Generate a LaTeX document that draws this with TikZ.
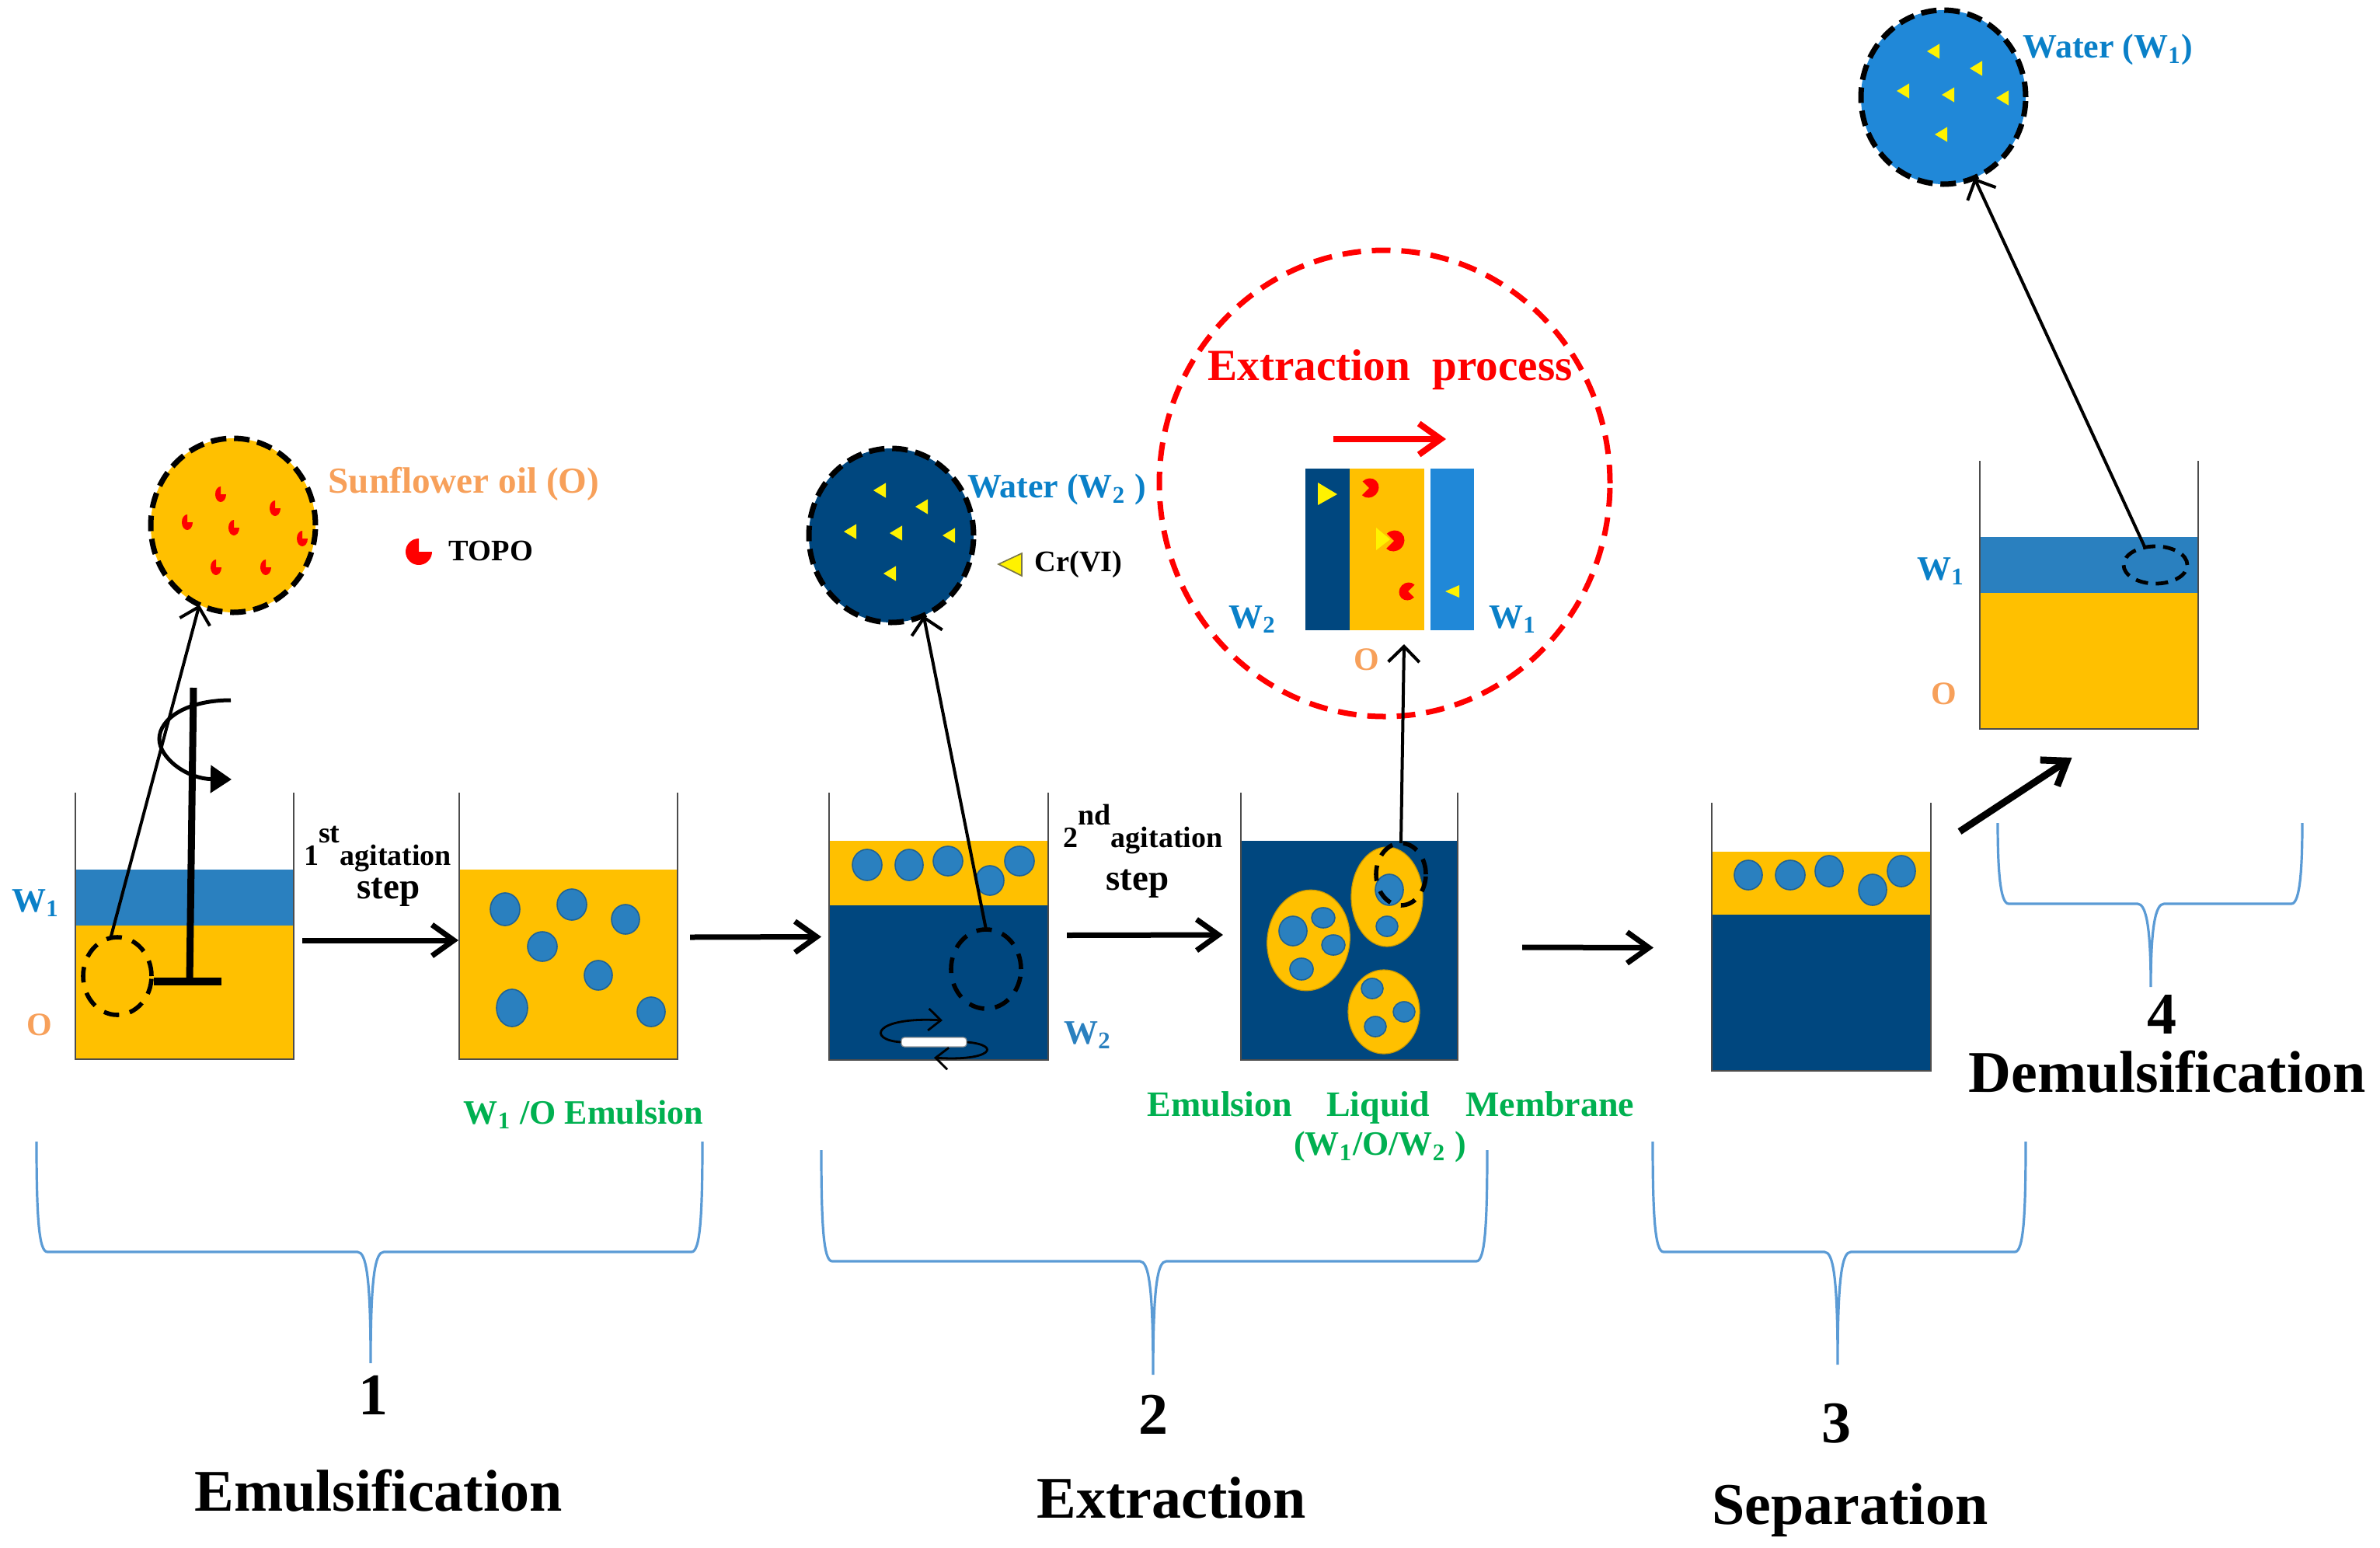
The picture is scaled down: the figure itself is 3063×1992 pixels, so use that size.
\documentclass[tikz,border=0pt]{standalone}
\usepackage{fontspec}
\setmainfont{Liberation Serif}
\usetikzlibrary{arrows.meta,shapes.geometric}

\definecolor{oilcol}{HTML}{FFC000}
\definecolor{wonecol}{HTML}{2A80BF}
\definecolor{wonebig}{HTML}{2088D8}
\definecolor{wtwocol}{HTML}{00477F}
\definecolor{dropedge}{HTML}{1F6296}
\definecolor{bracecol}{HTML}{5B9BD5}
\definecolor{wtext}{HTML}{0A80C8}
\definecolor{otext}{HTML}{F7A05A}
\definecolor{gtext}{HTML}{00B050}

\tikzset{
  every picture/.style={line width=0.75pt},
  layer/.style 2 args={rectangle,anchor=north west,inner sep=0pt,outer sep=0pt,minimum width=#1*0.25pt,minimum height=#2*0.25pt},
  wall/.style={draw=black!70,line width=0.6pt},
  drop/.style 2 args={ellipse,inner sep=0pt,outer sep=0pt,minimum width=#1*0.5pt,minimum height=#2*0.5pt,fill=wonecol,draw=dropedge,line width=0.4pt},
  blob/.style 2 args={ellipse,inner sep=0pt,outer sep=0pt,minimum width=#1*0.5pt,minimum height=#2*0.5pt,fill=oilcol,draw=oilcol!80!black,line width=0.3pt},
  lens/.style 2 args={ellipse,inner sep=0pt,outer sep=0pt,minimum width=#1*0.5pt,minimum height=#2*0.5pt,draw=black,line width=1.4pt,dash pattern=on 5pt off 3.5pt},
  bigview/.style={ellipse,inner sep=0pt,outer sep=0pt,minimum width=53pt,minimum height=56pt,draw=black,line width=1.75pt,dash pattern=on 5pt off 2.5pt},
  stepline/.style={draw=black,line width=1.75pt,-{Straight Barb[length=7pt,width=10pt]}},
  viewline/.style={draw=black,line width=1pt,-{Straight Barb[length=5pt,width=10pt]}},
  stirline/.style={draw=black,line width=0.7pt,-{Straight Barb[length=4pt,width=7pt]}},
  brace/.style={draw=bracecol,line width=0.8pt},
  topo/.style={fill=red,draw=none},
  crsix/.style={fill=yellow,draw=none},
  wlabel/.style={font=\fontsize{11pt}{13pt}\selectfont\bfseries,text=wtext,inner sep=0pt},
  olabel/.style={font=\fontsize{10.5pt}{13pt}\selectfont\bfseries,text=otext,inner sep=0pt},
  glabel/.style={font=\fontsize{11pt}{13pt}\selectfont\bfseries,text=gtext,inner sep=0pt},
  blabel/.style={font=\fontsize{9.6pt}{12pt}\selectfont\bfseries,text=black,inner sep=0pt},
  agit/.style={font=\fontsize{9.5pt}{12pt}\selectfont\bfseries,text=black,inner sep=0pt,anchor=base},
  agitstep/.style={font=\fontsize{11.75pt}{14pt}\selectfont\bfseries,text=black,inner sep=0pt,anchor=base},
  stage/.style={font=\fontsize{19pt}{22pt}\selectfont\bfseries,text=black,inner sep=0pt},
}

\newcommand{\beakerwall}[4]{\draw[wall] (#1,#3) -- (#1,#4) -- (#2,#4) -- (#2,#3);}
\newcommand{\topodrop}[5]{\fill[topo,shift={(#1,#2)},rotate=#3,xscale=#4,yscale=#5] (0,0) -- (0:1) arc[start angle=0,end angle=270,radius=1] -- cycle;}
\newcommand{\crtri}[3]{\fill[crsix,shift={(#1,#2)},scale=#3] (-1,0) -- (1,-1.2) -- (1,1.2) -- cycle;}
\newcommand{\stagebrace}[6]{\draw[brace] (#1,#4) .. controls (#1,#5-45) and (#1+3,#5) .. (#1+14,#5) -- (#3-17,#5) .. controls (#3-6,#5) and (#3,#5+30) .. (#3,#6) .. controls (#3,#5+30) and (#3+6,#5) .. (#3+17,#5) -- (#2-14,#5) .. controls (#2-3,#5) and (#2,#5-45) .. (#2,#4);}

\begin{document}
\begin{tikzpicture}[x=0.25pt,y=0.25pt,yscale=-1,xscale=1]
  \useasboundingbox (0,0) rectangle (3063,1992);

  %Shape: Beaker liquids
  \node[layer={281}{72},fill=wonecol] (waterA) at (97,1119) {};
  \node[layer={281}{172},fill=oilcol] (oilA) at (97,1191) {};
  \node[layer={281}{244},fill=oilcol] (oilB) at (591,1119) {};
  \node[layer={282}{83},fill=oilcol] (oilC) at (1067,1082) {};
  \node[layer={282}{199},fill=wtwocol] (darkC) at (1067,1165) {};
  \node[layer={279}{282},fill=wtwocol] (darkD) at (1597,1082) {};
  \node[layer={282}{81},fill=oilcol] (oilF) at (2203,1096) {};
  \node[layer={282}{201},fill=wtwocol] (darkF) at (2203,1177) {};
  \node[layer={281}{72},fill=wonecol] (waterE) at (2548,691) {};
  \node[layer={281}{175},fill=oilcol] (oilE) at (2548,763) {};
  %Shape: Beaker walls
  \beakerwall{97}{378}{1020}{1363}
  \beakerwall{591}{872}{1020}{1363}
  \beakerwall{1067}{1349}{1020}{1364}
  \beakerwall{1597}{1876}{1020}{1364}
  \beakerwall{2203}{2485}{1033}{1378}
  \beakerwall{2548}{2829}{593}{938}

  %Shape: Droplets of beaker 2
  \node[drop={19}{21}] (dropB1) at (650,1170) {};
  \node[drop={19}{20}] (dropB2) at (736,1164) {};
  \node[drop={18}{19}] (dropB3) at (805,1183) {};
  \node[drop={19}{19}] (dropB4) at (698,1218) {};
  \node[drop={18}{19}] (dropB5) at (770,1255) {};
  \node[drop={20}{24}] (dropB6) at (659,1297) {};
  \node[drop={18}{19}] (dropB7) at (838,1302) {};
  %Shape: Droplets of beaker 3
  \node[drop={19}{20}] (dropC1) at (1116,1113) {};
  \node[drop={18}{20}] (dropC2) at (1170,1113) {};
  \node[drop={19}{19}] (dropC3) at (1220,1108) {};
  \node[drop={18}{19}] (dropC4) at (1274,1133) {};
  \node[drop={19}{19}] (dropC5) at (1312,1108) {};
  %Shape: Droplets of beaker 5
  \node[drop={18}{19}] (dropF1) at (2250,1126) {};
  \node[drop={19}{19}] (dropF2) at (2304,1126) {};
  \node[drop={18}{20}] (dropF3) at (2354,1121) {};
  \node[drop={18}{20}] (dropF4) at (2410,1145) {};
  \node[drop={18}{20}] (dropF5) at (2447,1121) {};
  %Shape: Emulsion globules of beaker 4
  \node[blob={53}{65},rotate=-8] (blobD1) at (1684,1210) {};
  \node[blob={46}{64}] (blobD2) at (1785,1154) {};
  \node[blob={46}{54}] (blobD3) at (1781,1302) {};
  \node[drop={18}{19}] (dropD1) at (1664,1198) {};
  \node[drop={15}{13}] (dropD2) at (1703,1181) {};
  \node[drop={15}{13}] (dropD3) at (1716,1216) {};
  \node[drop={15}{14}] (dropD4) at (1675,1247) {};
  \node[drop={18}{20}] (dropD5) at (1788,1145) {};
  \node[drop={14}{13}] (dropD6) at (1785,1192) {};
  \node[drop={14}{13}] (dropD7) at (1766,1272) {};
  \node[drop={14}{13}] (dropD8) at (1807,1302) {};
  \node[drop={14}{13}] (dropD9) at (1770,1321) {};

  %Shape: Stirrer
  \draw[line width=2.25pt] (249,885) -- (244,1263);
  \draw[line width=2.5pt] (198,1263) -- (285,1263);
  \draw[line width=1.25pt,-{Triangle[length=6.75pt,width=8.75pt]}] (297,901) .. controls (240,901) and (205,925) .. (205,951) .. controls (205,975) and (240,1002) .. (298,1003);
  %Shape: Stir bar
  \node[rectangle,rounded corners=1pt,fill=white,draw=black!40,line width=0.3pt,inner sep=0pt,minimum width=21pt,minimum height=3pt] (barC) at (1202,1341) {};
  \draw[stirline] (barC.west) .. controls (1115,1338) and (1125,1308) .. (1213,1313);
  \draw[stirline] (barC.east) .. controls (1290,1345) and (1275,1366) .. (1202,1361);

  %Shape: Dashed sampling lenses
  \node[lens={44}{50}] (lensA) at (151,1256) {};
  \node[lens={45}{51}] (lensC) at (1269,1247) {};
  \node[lens={32}{40}] (lensD) at (1803,1125) {};
  \node[lens={41}{24},line width=1.2pt,dash pattern=on 4pt off 2.5pt] (lensE) at (2774,727) {};

  %Shape: Magnified views
  \node[bigview,fill=oilcol] (bigA) at (300,676) {};
  \node[bigview,fill=wtwocol] (bigC) at (1147,689) {};
  \node[bigview,fill=wonebig] (bigE) at (2501,125) {};
  \node[ellipse,inner sep=0pt,minimum width=145pt,minimum height=150pt,draw=red,line width=1.75pt,dash pattern=on 6pt off 3.5pt] (bigX) at (1782,622) {};

  %Shape: TOPO in the oil
  \topodrop{284}{636}{0}{7}{10}
  \topodrop{354}{654}{0}{7}{10}
  \topodrop{241}{672}{0}{7}{10}
  \topodrop{301}{679}{0}{7}{10}
  \topodrop{389}{693}{0}{7}{10}
  \topodrop{278}{730}{0}{7}{10}
  \topodrop{342}{730}{0}{7}{10}
  \topodrop{539}{710}{0}{17}{17}
  %Shape: Cr(VI) in the waters
  \crtri{1132}{631}{8}
  \crtri{1186}{652}{8}
  \crtri{1094}{684}{8}
  \crtri{1153}{686}{8}
  \crtri{1221}{689}{8}
  \crtri{1145}{738}{8}
  \crtri{2488}{66}{8}
  \crtri{2543}{88}{8}
  \crtri{2449}{117}{8}
  \crtri{2507}{122}{8}
  \crtri{2577}{126}{8}
  \crtri{2498}{173}{8}
  \fill[crsix,draw=black!60!yellow,line width=0.4pt] (1285,726) -- (1315,712) -- (1315,741) -- cycle;

  %Shape: Extraction panel
  \node[layer={57}{208},fill=wtwocol] (panelW) at (1680,603) {};
  \node[layer={96}{208},fill=oilcol] (panelO) at (1737,603) {};
  \node[layer={56}{208},fill=wonebig] (panelV) at (1841,603) {};
  \fill[crsix] (1721,636) -- (1696,621) -- (1696,650) -- cycle;
  \fill[crsix] (1789,694) -- (1771,679) -- (1771,708) -- cycle;
  \fill[crsix] (1860,761) -- (1878,753) -- (1878,769) -- cycle;
  \topodrop{1762}{628}{-135}{12}{13}
  \topodrop{1794}{696}{-135}{13}{14}
  \topodrop{1812}{761}{45}{11}{12}
  \coordinate (panelTip) at (1807,829);
  \coordinate (fluxIn) at (1716,565);
  \coordinate (fluxOut) at (1861,565);
  \draw[stepline,draw=red,line width=2pt] (fluxIn) -- (fluxOut);

  %Straight Lines: step arrows
  \draw[stepline] ([shift={(11,-67)}]oilA.east) -- ([shift={(-1,-31)}]oilB.west);
  \draw[stepline] ([shift={(16,-35)}]oilB.east) -- ([shift={(-10,-59)}]darkC.west);
  \draw[stepline] ([shift={(24,-61)}]darkC.east) -- ([shift={(-23,-20)}]darkD.west);
  \draw[stepline] ([shift={(83,-4)}]darkD.east) -- ([shift={(-75,-58)}]darkF.west);
  \draw[stepline,line width=2.25pt] ([shift={(37,-26)}]oilF.north east) -- ([shift={(-22,37)}]oilE.south);
  %Straight Lines: lens to view
  \draw[viewline] (lensA.100) -- (bigA.247);
  \draw[viewline] (lensC.north) -- (bigC.292);
  \draw[viewline] (lensD.north) -- (panelTip);
  \draw[viewline] (lensE.121) -- (bigE.291);

  %Shape: Braces
  \stagebrace{47}{904}{477}{1469}{1611}{1754}
  \stagebrace{1057}{1914}{1484}{1480}{1623}{1769}
  \stagebrace{2127}{2607}{2365}{1469}{1611}{1756}
  \stagebrace{2571}{2963}{2768}{1059}{1163}{1270}

  % Text Node
  \node[olabel,font=\fontsize{11.8pt}{14pt}\selectfont\bfseries] (oilName) at (597,623) {Sunflower oil (O)};
  % Text Node
  \node[blabel] (topoName) at (632,709) {TOPO};
  % Text Node
  \node[wlabel] (wOneA) at (46,1162) {W\textsubscript{1}};
  % Text Node
  \node[olabel] (oA) at (51,1319) {O};
  % Text Node
  \node[agit] (agitA) at (486,1113) {1\raisebox{0.75em}{st}agitation};
  % Text Node
  \node[agitstep] (stepA) at (500,1156) {step};
  % Text Node
  \node[glabel] (emulA) at (751,1434) {W\textsubscript{1} /O Emulsion};
  % Text Node
  \node[wlabel] (waterTwo) at (1360,630) {Water (W\textsubscript{2} )};
  % Text Node
  \node[blabel] (crName) at (1388,726) {Cr(VI)};
  % Text Node
  \node[wlabel,text=wonecol] (wTwoC) at (1400,1332) {W\textsubscript{2}};
  % Text Node
  \node[agit] (agitC) at (1471,1090) {2\raisebox{0.75em}{nd}agitation};
  % Text Node
  \node[agitstep] (stepC) at (1464,1145) {step};
  % Text Node
  \node[glabel,font=\fontsize{11.5pt}{13pt}\selectfont\bfseries] (emulD) at (1790,1425) {Emulsion\hspace{11pt}Liquid\hspace{11.5pt}Membrane};
  % Text Node
  \node[glabel] (phasesD) at (1776,1476) {(W\textsubscript{1}/O/W\textsubscript{2} )};
  % Text Node
  \node[font=\fontsize{14.3pt}{17pt}\selectfont\bfseries,text=red,inner sep=0pt] (extrName) at (1789,476) {Extraction\hspace{0.5em}process};
  % Text Node
  \node[wlabel] (wTwoX) at (1612,797) {W\textsubscript{2}};
  % Text Node
  \node[wlabel] (wOneX) at (1947,797) {W\textsubscript{1}};
  % Text Node
  \node[olabel] (oX) at (1759,849) {O};
  % Text Node
  \node[wlabel] (waterOne) at (2713,64) {Water (W\textsubscript{1})};
  % Text Node
  \node[wlabel] (wOneE) at (2498,735) {W\textsubscript{1}};
  % Text Node
  \node[olabel] (oE) at (2502,893) {O};
  % Text Node
  \node[stage] (numA) at (480,1795) {1};
  % Text Node
  \node[stage] (numC) at (1484,1820) {2};
  % Text Node
  \node[stage] (numF) at (2363,1832) {3};
  % Text Node
  \node[stage] (numE) at (2782,1305) {4};
  % Text Node
  \node[stage] (nameA) at (487,1918) {Emulsification};
  % Text Node
  \node[stage] (nameC) at (1508,1927) {Extraction};
  % Text Node
  \node[stage] (nameF) at (2381,1943) {Separation};
  % Text Node
  \node[stage] (nameE) at (2789,1379) {Demulsification};

\end{tikzpicture}
\end{document}
